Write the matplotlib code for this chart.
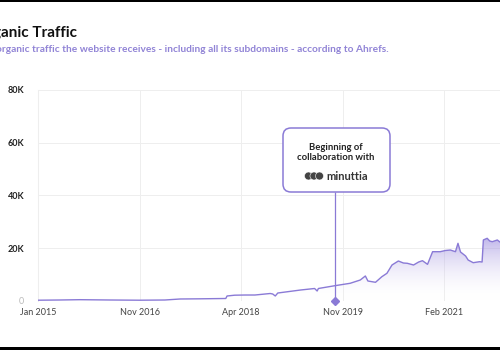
import numpy as np
import matplotlib.pyplot as plt
from matplotlib.patches import FancyBboxPatch, Circle
from matplotlib.colors import LinearSegmentedColormap

# Данные: индекс точки (категориальная ось) и органический трафик
idx = [0, 17, 33, 57, 80, 100, 112, 128, 148, 149, 155, 163, 171, 183, 185, 187,
       189, 207, 218, 220, 221, 234, 246, 254, 258, 260, 266, 271, 275, 279, 284,
       288, 291, 296, 300, 303, 307, 311, 317, 321, 325, 329, 331, 333, 337, 339,
       343, 348, 350, 351, 354, 356, 358, 362, 364, 368]
traffic = [300, 380, 500, 380, 300, 380, 760, 830, 950, 1900, 2200, 2270, 2270,
           2840, 2650, 1900, 3030, 4170, 4740, 3790, 4740, 5800, 6710, 7960, 9480,
           7580, 7090, 9210, 10500, 13650, 15160, 14400, 14300, 13650, 14780,
           15280, 13900, 18690, 18690, 19140, 19330, 18690, 21870, 18580, 17060,
           15540, 14520, 14900, 14780, 23130, 23770, 22750, 22480, 23130, 22370,
           22370]
tick_pos = [0, 80, 160, 240, 320]
tick_labels = ['Jan 2015', 'Nov 2016', 'Apr 2018', 'Nov 2019', 'Feb 2021']
y_ticks = [0, 20000, 40000, 60000, 80000]
y_labels = ['0', '20K', '40K', '60K', '80K']
start_idx = 234  # начало сотрудничества

purple = '#8a7ad6'
plt.rcParams['font.family'] = ['Lato', 'DejaVu Sans']

fig = plt.figure(figsize=(5, 3.5), dpi=100)
ax = fig.add_axes([0.076, 0.14, 0.944, 0.603])
ax.set_xlim(0, 372)
ax.set_ylim(0, 80000)

# Градиентная заливка под линией
poly = ax.fill_between(idx, traffic, 0, color='none')
cmap = LinearSegmentedColormap.from_list('g', [(1, 1, 1, 0), (0.55, 0.48, 0.85, 0.6)])
grad = np.linspace(0, 1, 256).reshape(-1, 1)
img = ax.imshow(grad, extent=[0, 372, 0, 25000], origin='lower', aspect='auto',
                cmap=cmap, zorder=1)
img.set_clip_path(poly.get_paths()[0], transform=ax.transData)
ax.plot(idx, traffic, color=purple, lw=1.0, zorder=3)

ax.set_xticks(tick_pos)
ax.set_xticklabels(tick_labels, fontsize=6.5, color='#444444')
ax.set_yticks(y_ticks)
ax.set_yticklabels(y_labels, fontsize=6.5, color='#222222', fontweight='bold')
ax.get_yticklabels()[0].set_color('#bbbbbb')
ax.get_yticklabels()[0].set_fontweight('normal')
ax.tick_params(length=0, pad=10)
ax.tick_params(axis='x', pad=5)
ax.grid(True, color='#eeeeee', lw=0.7)
ax.set_axisbelow(True)
for s in ax.spines.values():
    s.set_visible(False)
ax.spines['left'].set_visible(True)
ax.spines['left'].set_color('#eeeeee')

# Линия и маркер начала сотрудничества
ax.vlines(start_idx, 0, 41300, color=purple, lw=0.9, zorder=4)
ax.plot([start_idx], [0], marker='D', ms=4.5, color=purple, clip_on=False, zorder=5)

# Рамка аннотации
box = FancyBboxPatch((2.83, 1.58), 1.07, 0.64, boxstyle='round,pad=0,rounding_size=0.08',
                     transform=fig.dpi_scale_trans, fc='white', ec=purple, lw=1.1, zorder=10)
fig.patches.append(box)
fig.text(336 / 500, 1 - 148 / 350, 'Beginning of', ha='center', va='center',
         fontsize=6.8, fontweight='bold', color='#222222', zorder=11)
fig.text(336 / 500, 1 - 158 / 350, 'collaboration with', ha='center', va='center',
         fontsize=6.8, fontweight='bold', color='#222222', zorder=11)
for cx in [3.085, 3.14, 3.195]:
    fig.patches.append(Circle((cx, 3.5 - 1.76), 0.04,
                              transform=fig.dpi_scale_trans, fc='#444444', ec='white',
                              lw=0.4, zorder=11))
fig.text(347 / 500, 1 - 176 / 350, 'minuttia', ha='center', va='center',
         fontsize=8, fontweight='bold', color='#333333', zorder=11)

# Заголовки
fig.text(77 / 500, 1 - 33 / 350, 'Organic Traffic', ha='right', va='center',
         fontsize=11, fontweight='bold', color='#111111')
fig.text(389 / 500, 1 - 50 / 350,
         'organic traffic the website receives - including all its subdomains - according to Ahrefs.',
         ha='right', va='center', fontsize=7.25, fontweight='bold', color='#9184d6')

# Чёрные полосы сверху и снизу
fig.patches.append(plt.Rectangle((0, 1 - 2 / 350), 1, 2 / 350, transform=fig.transFigure,
                                 fc='black', ec='none'))
fig.patches.append(plt.Rectangle((0, 0), 1, 3 / 350, transform=fig.transFigure,
                                 fc='black', ec='none'))

fig.savefig('out.png', dpi=100)
